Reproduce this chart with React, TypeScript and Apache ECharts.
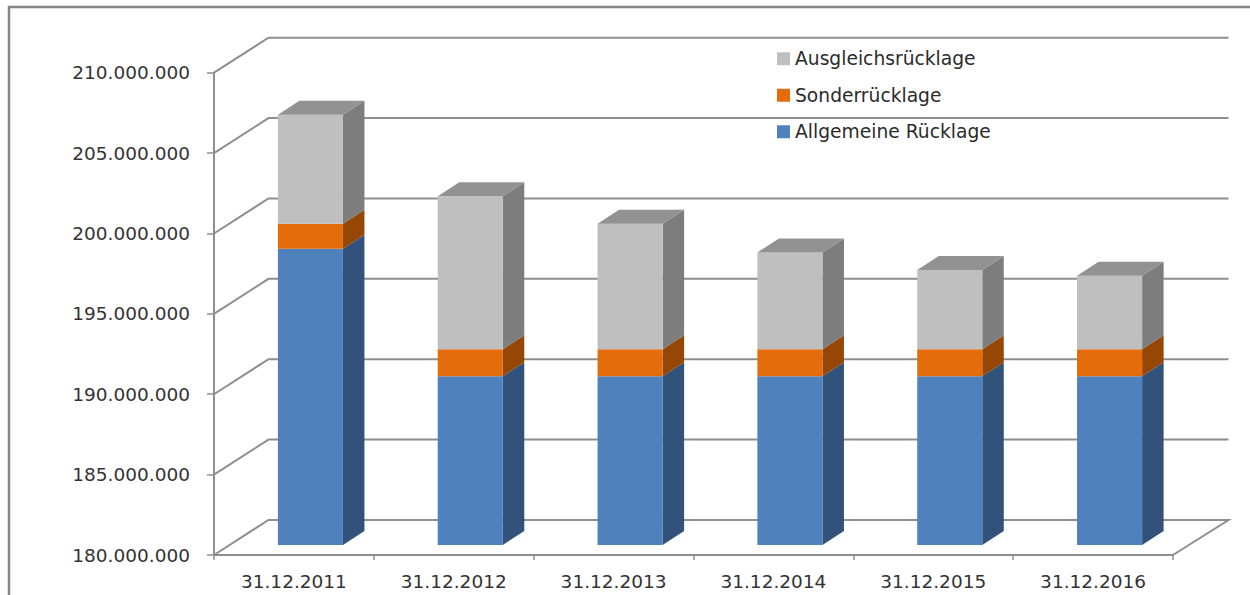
import React, { useEffect, useRef } from "react";
import * as echarts from "echarts";

const categories = ["31.12.2011", "31.12.2012", "31.12.2013", "31.12.2014", "31.12.2015", "31.12.2016"];
const allgemeine = [198420000, 190500000, 190500000, 190500000, 190500000, 190500000];
const sonder = [1560000, 1680000, 1680000, 1680000, 1680000, 1680000];
const ausgleich = [6780000, 9520000, 7800000, 6020000, 4920000, 4570000];
const yTicks = [180000000, 185000000, 190000000, 195000000, 200000000, 205000000, 210000000];

const AXIS = "#8e8e8e";
const FONT = "'DejaVu Sans'";
const WALL_DX = 54.5;
const WALL_DY = 35;
const BAR_SHIFT_DX = 16.5;
const BAR_SHIFT_DY = 10;
const BAR_DX = 21.5;
const BAR_DY = 14;

function fmt(v: number) {
  return String(v).replace(/\B(?=(\d{3})+(?!\d))/g, ".");
}

function wallItem(params: any, api: any) {
  const v = api.value(1);
  const [, fy] = api.coord([0, v]);
  const sys = params.coordSys;
  const left = sys.x;
  const right = sys.x + sys.width;
  const points: number[][] = [
    [left, fy],
    [left + WALL_DX, fy - WALL_DY],
    [right + WALL_DX + 1, fy - WALL_DY],
  ];
  if (v === yTicks[0]) points.push([right, fy]);
  return {
    type: "polyline",
    silent: true,
    shape: { points },
    style: { stroke: AXIS, lineWidth: 2, fill: "none" },
  };
}

function barItem(colors: { front: string; side: string; top?: string }) {
  return (_params: any, api: any) => {
    const cat = api.value(0);
    const [cx, y0] = api.coord([cat, api.value(1)]);
    const [, y1] = api.coord([cat, api.value(2)]);
    const w = api.size([1, 0])[0] * 0.407;
    const x0 = cx - w / 2 + BAR_SHIFT_DX;
    const x1 = x0 + w;
    const b = y0 - BAR_SHIFT_DY;
    const t = y1 - BAR_SHIFT_DY;
    const children: any[] = [
      {
        type: "polygon",
        shape: { points: [[x1, b], [x1 + BAR_DX, b - BAR_DY], [x1 + BAR_DX, t - BAR_DY], [x1, t]] },
        style: { fill: colors.side },
      },
      { type: "rect", shape: { x: x0, y: t, width: w, height: b - t }, style: { fill: colors.front } },
    ];
    if (colors.top) {
      children.push({
        type: "polygon",
        shape: { points: [[x0, t], [x0 + BAR_DX, t - BAR_DY], [x1 + BAR_DX, t - BAR_DY], [x1, t]] },
        style: { fill: colors.top },
      });
    }
    return { type: "group", children };
  };
}

export default function App() {
  const ref = useRef<HTMLDivElement>(null);
  useEffect(() => {
    const chart = echarts.init(ref.current!, undefined, { renderer: "svg" });
    const blueData = allgemeine.map((v, i) => [i, yTicks[0], v]);
    const orangeData = sonder.map((v, i) => [i, allgemeine[i], allgemeine[i] + v]);
    const greyData = ausgleich.map((v, i) => [i, allgemeine[i] + sonder[i], allgemeine[i] + sonder[i] + v]);
    const enc = { x: 0, y: [1, 2] };
    chart.setOption({
      animation: false,
      backgroundColor: "#ffffff",
      textStyle: { fontFamily: FONT },
      grid: { left: 214, right: 77, top: 72.7, bottom: 40, containLabel: false },
      legend: {
        orient: "vertical",
        left: 772,
        top: 42,
        itemWidth: 13,
        itemHeight: 13,
        itemGap: 13,
        icon: "rect",
        selectedMode: false,
        data: ["Ausgleichsrücklage", "Sonderrücklage", "Allgemeine Rücklage"],
        textStyle: { fontFamily: FONT, fontSize: 18.7, color: "#2b2b2b", lineHeight: 23.5, height: 23.5 },
      },
      xAxis: {
        type: "category",
        data: categories,
        axisLine: { lineStyle: { color: AXIS, width: 2 } },
        axisTick: { show: true, length: 5, lineStyle: { color: AXIS, width: 1.5 } },
        axisLabel: { fontFamily: FONT, fontSize: 18.5, color: "#333", margin: 17 },
        splitLine: { show: false },
      },
      yAxis: {
        type: "value",
        min: 180000000,
        max: 210000000,
        interval: 5000000,
        axisLine: { show: true, lineStyle: { color: AXIS, width: 2 } },
        axisTick: { show: true, length: 7, lineStyle: { color: AXIS, width: 1.5 } },
        axisLabel: { fontFamily: FONT, fontSize: 18.5, color: "#333", margin: 24, formatter: (v: number) => fmt(v) },
        splitLine: { show: false },
      },
      graphic: [
        {
          type: "polyline",
          silent: true,
          shape: { points: [[9, 595], [9, 7], [1250, 7]] },
          style: { stroke: "#868686", lineWidth: 2.5, fill: "none" },
        },
      ],
      series: [
        {
          type: "custom",
          coordinateSystem: "cartesian2d",
          clip: false,
          silent: true,
          z: 1,
          data: yTicks.map((v) => [0, v]),
          encode: { x: 0, y: 1 },
          renderItem: wallItem,
        },
        {
          name: "Allgemeine Rücklage",
          type: "custom",
          clip: false,
          z: 3,
          itemStyle: { color: "#4f81bd" },
          data: blueData,
          encode: enc,
          renderItem: barItem({ front: "#4f81bd", side: "#32527c" }),
        },
        {
          name: "Sonderrücklage",
          type: "custom",
          clip: false,
          z: 3,
          itemStyle: { color: "#e46c0a" },
          data: orangeData,
          encode: enc,
          renderItem: barItem({ front: "#e46c0a", side: "#964706" }),
        },
        {
          name: "Ausgleichsrücklage",
          type: "custom",
          clip: false,
          z: 3,
          itemStyle: { color: "#bfbfbf" },
          data: greyData,
          encode: enc,
          renderItem: barItem({ front: "#bfbfbf", side: "#7d7d7d", top: "#929292" }),
        },
      ],
    });
    return () => chart.dispose();
  }, []);
  return <div ref={ref} style={{ position: "fixed", left: 0, top: 0, width: 1250, height: 595 }} />;
}
